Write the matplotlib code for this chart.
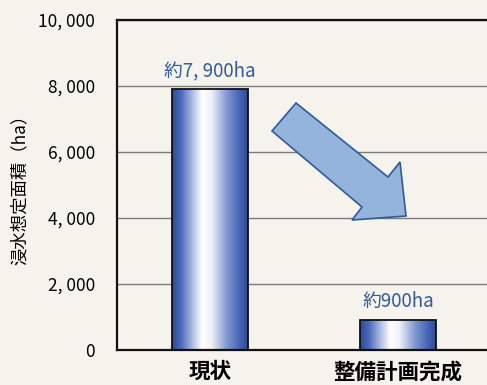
import matplotlib
matplotlib.use("Agg")
import matplotlib.pyplot as plt
import numpy as np
from matplotlib.colors import LinearSegmentedColormap
from matplotlib.patches import Polygon

plt.rcParams['font.family'] = ['Noto Sans CJK JP', 'DejaVu Sans']

categories = ["現状", "整備計画完成"]
values = [7900, 900]
value_labels = ["約7, 900ha", "約900ha"]
yticks = [0, 2000, 4000, 6000, 8000, 10000]
ytick_labels = ["0", "2, 000", "4, 000", "6, 000", "8, 000", "10, 000"]
ylabel = "浸水想定面積（ha）"

bg = "#f5f3ec"
fig = plt.figure(figsize=(4.87, 3.85), dpi=100, facecolor=bg)
ax = fig.add_axes([117/487, 35/385, 1 - 117/487, 330/385])
ax.set_facecolor(bg)

x = np.arange(len(categories))
width = 0.40
ax.set_xlim(-0.495, 1.473)
ax.set_ylim(0, 10000)

cmap = LinearSegmentedColormap.from_list("g", [
    (0.0, "#2a4a9a"), (0.12, "#4b6bba"), (0.3, "#c2cdeb"), (0.4, "#ffffff"),
    (0.52, "#eef1f9"), (0.72, "#8499d0"), (0.9, "#4463b1"), (1.0, "#2c4a9c")])
grad = np.linspace(0, 1, 256).reshape(1, -1)

bars = ax.bar(x, values, width=width, color="none", edgecolor="#111111", linewidth=1.3, zorder=3)
for b in bars:
    xb, yb = b.get_x(), b.get_y()
    im = ax.imshow(grad, cmap=cmap, aspect="auto", zorder=2.5,
                   extent=[xb, xb + b.get_width(), yb, yb + b.get_height()])
    im.set_clip_path(b)

for xi, v, lab in zip(x, values, value_labels):
    ax.text(xi, v + 250, lab, ha="center", va="bottom", color="#2f5c9c", fontsize=13.5)

ax.set_yticks(yticks)
ax.set_yticklabels(ytick_labels, fontsize=12.5)
ax.set_xticks(x)
ax.set_xticklabels(categories, fontsize=15.5, fontweight="bold")
ax.tick_params(axis="y", length=0, pad=16)
ax.tick_params(axis="x", length=0, pad=8)
ax.yaxis.grid(True, color="#7a7a7a", linewidth=1.0)
ax.set_axisbelow(True)
ax.set_ylabel(ylabel, fontsize=12.5)
ax.yaxis.set_label_coords(-0.24, 0.5)

for s in ["left", "bottom", "top"]:
    ax.spines[s].set_linewidth(1.6)
    ax.spines[s].set_color("#111111")
ax.spines["right"].set_visible(False)

def px(pxx, pyy):
    return ((pxx - 117) / 370.0, (350 - pyy) / 330.0)

pts = [px(296, 103), px(388, 177), px(400, 162), px(406, 216),
       px(352, 220), px(362, 207), px(272, 131)]
arrow = Polygon(pts, closed=True, transform=ax.transAxes, facecolor="#93b5dc",
                edgecolor="#2f5a9e", linewidth=1.2, zorder=4)
ax.add_patch(arrow)

fig.savefig("out.png", dpi=100, facecolor=bg)
